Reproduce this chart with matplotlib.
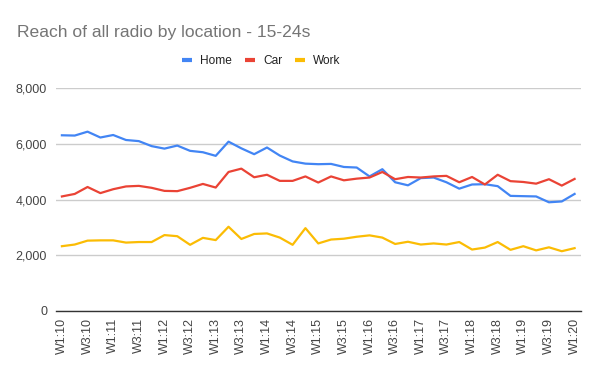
import matplotlib
matplotlib.use("Agg")
import matplotlib.pyplot as plt

categories = [f"W{w}:{y}" for y in range(10, 20) for w in range(1, 5)] + ["W1:20"]

home = [6310, 6300, 6440, 6230, 6320, 6140, 6100, 5920, 5830, 5940,
        5750, 5700, 5570, 6080, 5840, 5630, 5870, 5580, 5370, 5290,
        5270, 5280, 5170, 5150, 4830, 5090, 4620, 4510, 4770, 4790,
        4620, 4390, 4540, 4550, 4480, 4130, 4120, 4110, 3900, 3930, 4200]
car = [4110, 4200, 4450, 4230, 4370, 4470, 4490, 4420, 4310, 4300,
       4420, 4560, 4430, 4990, 5110, 4800, 4890, 4670, 4670, 4830,
       4610, 4830, 4690, 4750, 4790, 4990, 4730, 4810, 4790, 4830,
       4850, 4620, 4810, 4540, 4890, 4660, 4630, 4570, 4730, 4500, 4740]
work = [2320, 2380, 2520, 2530, 2530, 2450, 2470, 2470, 2720, 2680,
        2370, 2620, 2540, 3020, 2580, 2760, 2780, 2630, 2370, 2970,
        2420, 2560, 2590, 2660, 2710, 2630, 2400, 2480, 2380, 2420,
        2380, 2470, 2200, 2270, 2470, 2190, 2320, 2170, 2280, 2140, 2250]

series_names = ["Home", "Car", "Work"]
colors = ["#4285F4", "#EA4335", "#FBBC04"]
yticks = [0, 2000, 4000, 6000, 8000]

plt.rcParams['font.family'] = ['Liberation Sans', 'DejaVu Sans']

fig = plt.figure(figsize=(6, 3.71), dpi=100)
ax = fig.add_axes([55.5/600, 1-310.7/371, (581-55.5)/600, (310.7-88.3)/371])

x = list(range(len(categories)))
for name, vals, c in zip(series_names, [home, car, work], colors):
    ax.plot(x, vals, color=c, lw=1.6, label=name, solid_joinstyle='round')

ax.set_xlim(-0.5, len(categories) - 0.5)
ax.set_ylim(0, 8000)
ax.set_yticks(yticks)
ax.set_yticklabels([f"{v:,}" for v in yticks])
ax.set_xticks(x[::2])
ax.set_xticklabels(categories[::2], rotation=90)
ax.tick_params(axis='both', length=0, labelsize=9, colors='#444444')
ax.tick_params(axis='x', pad=5)
ax.tick_params(axis='y', pad=6)
ax.grid(axis='y', color='#cccccc', lw=1)
ax.set_axisbelow(True)
for s in ['top', 'right', 'left']:
    ax.spines[s].set_visible(False)
ax.spines['bottom'].set_color('#333333')
ax.spines['bottom'].set_linewidth(1)
ax.spines['bottom'].set_zorder(3)

fig.text(17/600, 1-37.3/371, "Reach of all radio by location - 15-24s",
         fontsize=12.6, color='#757575', va='baseline', ha='left')

leg = fig.legend(loc='center', bbox_to_anchor=(261.5/600, 1-61/371), ncol=3,
                 frameon=False, fontsize=8.6, handlelength=0.85, handletextpad=0.65,
                 columnspacing=1.1)
for t in leg.get_texts():
    t.set_color('#222222')
for h in leg.get_lines():
    h.set_linewidth(3)
    h.set_solid_capstyle('butt')

fig.savefig("out.png", dpi=100)
